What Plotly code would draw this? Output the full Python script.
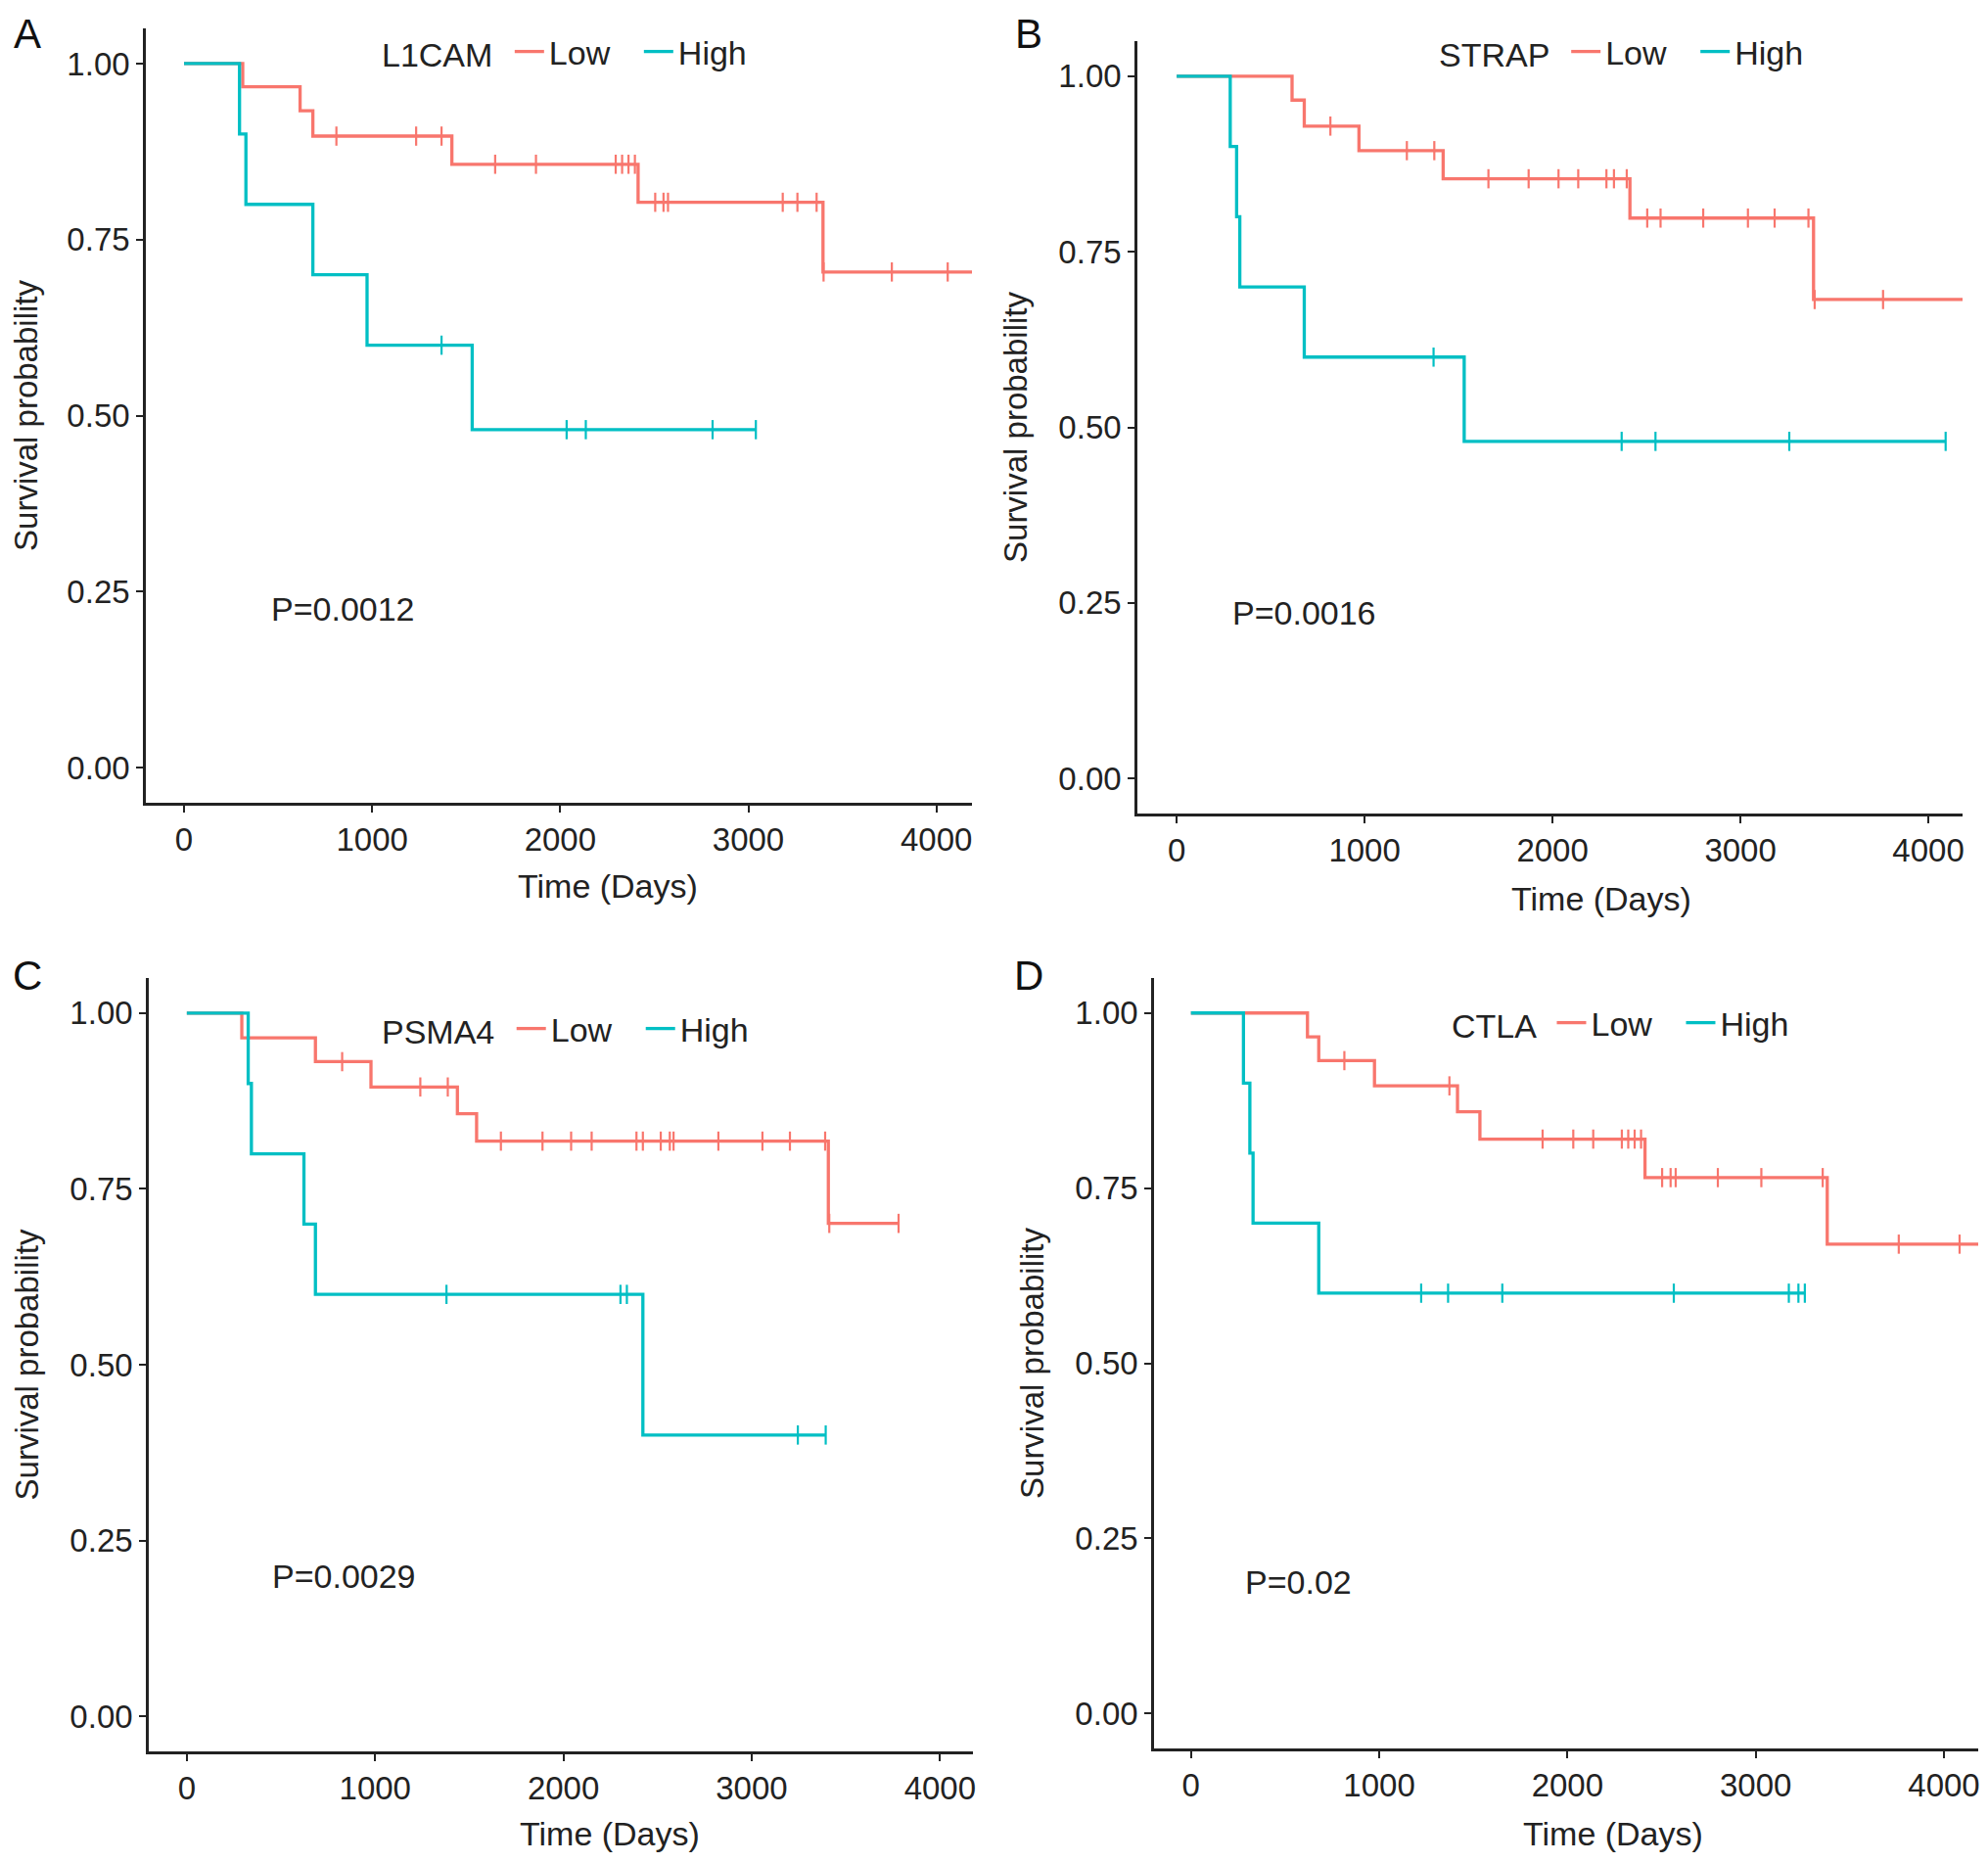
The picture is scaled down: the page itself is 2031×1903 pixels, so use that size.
import numpy as np
import plotly.graph_objects as go

RED = "#F8766D"
CYAN = "#00BFC4"
FONT = "Liberation Sans, Arial, sans-serif"

# ---------------- data ----------------
# Panel A: L1CAM
a_low_times = [312, 617, 685, 1424, 2414, 3397]
a_low_surv = [0.967, 0.933, 0.897, 0.857, 0.803, 0.704]
a_low_censor = [810, 1234, 1369, 1654, 1871, 2295, 2329, 2363, 2397, 2505, 2549, 2573, 3183, 3261, 3363, 3400, 3763, 4060]
a_low_end = 4200
a_high_times = [295, 329, 685, 973, 1532]
a_high_surv = [0.9, 0.8, 0.7, 0.6, 0.48]
a_high_censor = [1369, 2034, 2136, 2810, 3040]
a_high_end = 3040

# Panel B: STRAP
b_low_times = [614, 679, 970, 1418, 2412, 3389]
b_low_surv = [0.966, 0.929, 0.894, 0.854, 0.798, 0.682]
b_low_censor = [818, 1225, 1371, 1659, 1873, 2032, 2137, 2287, 2327, 2395, 2504, 2575, 2802, 3040, 3182, 3362, 3395, 3759]
b_low_end = 4200
b_high_times = [285, 319, 336, 679, 1530]
b_high_surv = [0.9, 0.8, 0.7, 0.6, 0.48]
b_high_censor = [1367, 2368, 2548, 3260, 4092]
b_high_end = 4092

# Panel C: PSMA4
c_low_times = [292, 683, 978, 1437, 1539, 3407]
c_low_surv = [0.965, 0.931, 0.895, 0.857, 0.818, 0.701]
c_low_censor = [825, 1240, 1386, 1668, 1889, 2041, 2150, 2388, 2422, 2517, 2565, 2585, 2823, 3057, 3203, 3390, 3412, 3780]
c_low_end = 3780
c_high_times = [326, 343, 622, 683, 2422]
c_high_surv = [0.9, 0.8, 0.7, 0.6, 0.4]
c_high_censor = [1379, 2303, 2337, 3245, 3393]
c_high_end = 3393

# Panel D: CTLA
d_low_times = [619, 679, 975, 1416, 1535, 2412, 3380]
d_low_surv = [0.966, 0.932, 0.896, 0.859, 0.820, 0.765, 0.670]
d_low_censor = [815, 1373, 1868, 2031, 2137, 2289, 2323, 2357, 2391, 2503, 2548, 2575, 2799, 3030, 3356, 3760, 4083]
d_low_end = 4200
d_high_times = [279, 313, 330, 679]
d_high_surv = [0.9, 0.8, 0.7, 0.6]
d_high_censor = [1223, 1366, 1654, 2565, 3176, 3227, 3261]
d_high_end = 3261

genes = ["L1CAM", "STRAP", "PSMA4", "CTLA"]
letters = ["A", "B", "C", "D"]
p_values = ["P=0.0012", "P=0.0016", "P=0.0029", "P=0.02"]
p_pos = [(453, 0.226), (284, 0.2355), (445, 0.199), (277, 0.187)]
x_ticks = [0, 1000, 2000, 3000, 4000]
y_ticks = [0.0, 0.25, 0.5, 0.75, 1.0]
y_tick_labels = ["0.00", "0.25", "0.50", "0.75", "1.00"]

groups = [
    [(a_low_times, a_low_surv, a_low_censor, a_low_end), (a_high_times, a_high_surv, a_high_censor, a_high_end)],
    [(b_low_times, b_low_surv, b_low_censor, b_low_end), (b_high_times, b_high_surv, b_high_censor, b_high_end)],
    [(c_low_times, c_low_surv, c_low_censor, c_low_end), (c_high_times, c_high_surv, c_high_censor, c_high_end)],
    [(d_low_times, d_low_surv, d_low_censor, d_low_end), (d_high_times, d_high_surv, d_high_censor, d_high_end)],
]

# ---------------- layout geometry (pixels of the 2031x1903 window) ----------------
OFF = 8  # default body margin of the page
W, H = 2031 - OFF, 1903 - 2 * OFF
boxes = [  # left, right, top, bottom in window px
    (149, 993, 29, 820),
    (1162, 2005, 42, 831),
    (152, 994, 999, 1789),
    (1179, 2021, 999, 1786),
]
x_ranges = [(-203, 4189), (-209, 4182), (-202, 4175), (-196, 4182)]
legend_pos = [(388, 53), (1468, 53), (388, 1051), (1481, 1045)]
letter_pos = [(28, 34), (1051, 34), (28, 996), (1051, 996)]
xtitle_pos = [(621, 905), (1636, 918), (623, 1873), (1648, 1873)]


def px(x):
    return (x - OFF) / W


def py(y):
    return 1 - (y - OFF) / H


def surv_at(t, times, surv):
    idx = np.searchsorted(np.array(times), t, side="right") - 1
    return 1.0 if idx < 0 else surv[idx]


fig = go.Figure()
annotations = []
layout_axes = {}

for i in range(4):
    sx = "" if i == 0 else str(i + 1)
    xa, ya = "x" + sx, "y" + sx
    leg = "legend" if i == 0 else "legend" + str(i + 1)
    for (times, surv, cens, end), name, col in zip(groups[i], ["Low", "High"], [RED, CYAN]):
        xs = [0] + list(times) + [end]
        ys = [1.0] + list(surv) + [surv[-1]]
        fig.add_trace(go.Scatter(
            x=xs, y=ys, mode="lines", line=dict(color=col, width=3.3, shape="hv"),
            name=name, xaxis=xa, yaxis=ya, legend=leg, showlegend=True, hoverinfo="skip"))
        cy = [surv_at(t, times, surv) for t in cens]
        fig.add_trace(go.Scatter(
            x=cens, y=cy, mode="markers",
            marker=dict(symbol="line-ns", size=14, line=dict(color=col, width=2.2)),
            xaxis=xa, yaxis=ya, showlegend=False, hoverinfo="skip"))

    l, r, t, b = boxes[i]
    axis_common = dict(
        showline=True, linecolor="#222222", linewidth=2.6, mirror=False,
        ticks="outside", ticklen=7, tickwidth=2.2, tickcolor="#222222",
        showgrid=False, zeroline=False, automargin=False,
        tickfont=dict(family=FONT, size=33, color="#222222"),
    )
    layout_axes["xaxis" + sx] = dict(
        axis_common, domain=[px(l), px(r)], range=list(x_ranges[i]), anchor=ya,
        tickvals=x_ticks, ticktext=[str(v) for v in x_ticks],
    )
    layout_axes["yaxis" + sx] = dict(
        axis_common, domain=[py(b), py(t)], range=[-0.05, 1.05], anchor=xa,
        tickvals=y_ticks, ticktext=y_tick_labels,
        title=dict(text="Survival probability", font=dict(family=FONT, size=33, color="#222222"), standoff=22),
    )
    lx, ly = legend_pos[i]
    layout_axes[leg] = dict(
        orientation="h", x=px(lx), y=py(ly), xanchor="left", yanchor="middle",
        title=dict(text=genes[i] + " ", font=dict(family=FONT, size=34, color="#222222"), side="left"),
        font=dict(family=FONT, size=34, color="#222222"), bgcolor="rgba(0,0,0,0)",
        itemwidth=30, tracegroupgap=0, entrywidth=87, entrywidthmode="pixels",
    )
    p_x, p_y = p_pos[i]
    annotations.append(dict(
        x=p_x, y=p_y, xref=xa, yref=ya, text=p_values[i], showarrow=False,
        xanchor="left", yanchor="middle", font=dict(family=FONT, size=34, color="#222222")))
    lxp, lyp = letter_pos[i]
    annotations.append(dict(
        x=px(lxp), y=py(lyp), xref="paper", yref="paper", text=letters[i], showarrow=False,
        xanchor="center", yanchor="middle", font=dict(family=FONT, size=42, color="#111111")))
    tx, ty = xtitle_pos[i]
    annotations.append(dict(
        x=px(tx), y=py(ty), xref="paper", yref="paper", text="Time (Days)", showarrow=False,
        xanchor="center", yanchor="middle", font=dict(family=FONT, size=34, color="#222222")))

fig.update_layout(
    width=W, height=H, autosize=False,
    margin=dict(l=0, r=0, t=0, b=0),
    paper_bgcolor="white", plot_bgcolor="white",
    annotations=annotations,
    **layout_axes,
)

fig.write_html("out.html")
